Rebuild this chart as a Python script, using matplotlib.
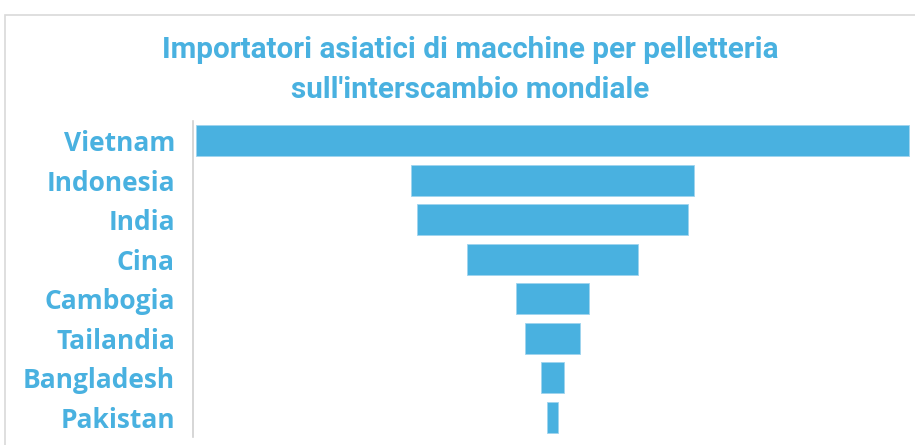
import matplotlib
matplotlib.use("Agg")
import matplotlib.pyplot as plt
from matplotlib.patches import Rectangle
import numpy as np

# relative import values (Vietnam = 100)
countries = ["Vietnam", "Indonesia", "India", "Cina", "Cambogia",
             "Tailandia", "Bangladesh", "Pakistan"]
values = [100.0, 39.7, 38.0, 24.1, 10.2, 7.6, 3.2, 1.5]

title = "Importatori asiatici di macchine per pelletteria\nsull'interscambio mondiale"
blue = "#49B1E0"

fig = plt.figure(figsize=(9.15, 4.45), dpi=100)
W, H = 915, 445

# chart frame
fig.patches.append(Rectangle((5 / W, -0.1), 1.2, 1 - 15 / H + 0.1,
                             transform=fig.transFigure, fill=False,
                             edgecolor="#d9d9d9", linewidth=1.2))

ax = fig.add_axes([193 / W, 1 - 437 / H, (912 - 193) / W, (437 - 121) / H])
vals = np.array(values)
y = np.arange(len(countries))
ax.barh(y, vals, left=-vals / 2, height=0.79, color=blue,
        edgecolor="#9fd4ee", linewidth=0.6)
m = vals.max() * (3 / 713)
ax.set_xlim(-vals.max() / 2 - m, vals.max() / 2 + m)
ax.set_ylim(len(countries) - 0.5, -0.5)

ax.set_yticks(y)
ax.set_yticklabels(countries, fontsize=19, fontweight="bold", color=blue,
                   family=["Open Sans", "DejaVu Sans"])
ax.tick_params(axis="y", length=0, pad=13)
ax.set_xticks([])
for s in ["top", "right", "bottom"]:
    ax.spines[s].set_visible(False)
ax.spines["left"].set_color("#d0d0d0")
ax.spines["left"].set_linewidth(1.2)

fig.text(470 / W, 1 - 70 / H, title, ha="center", va="center",
         fontsize=21.3, color=blue, fontweight="semibold", linespacing=1.5,
         family=["Roboto", "DejaVu Sans"])

fig.savefig("out.png", dpi=100)
